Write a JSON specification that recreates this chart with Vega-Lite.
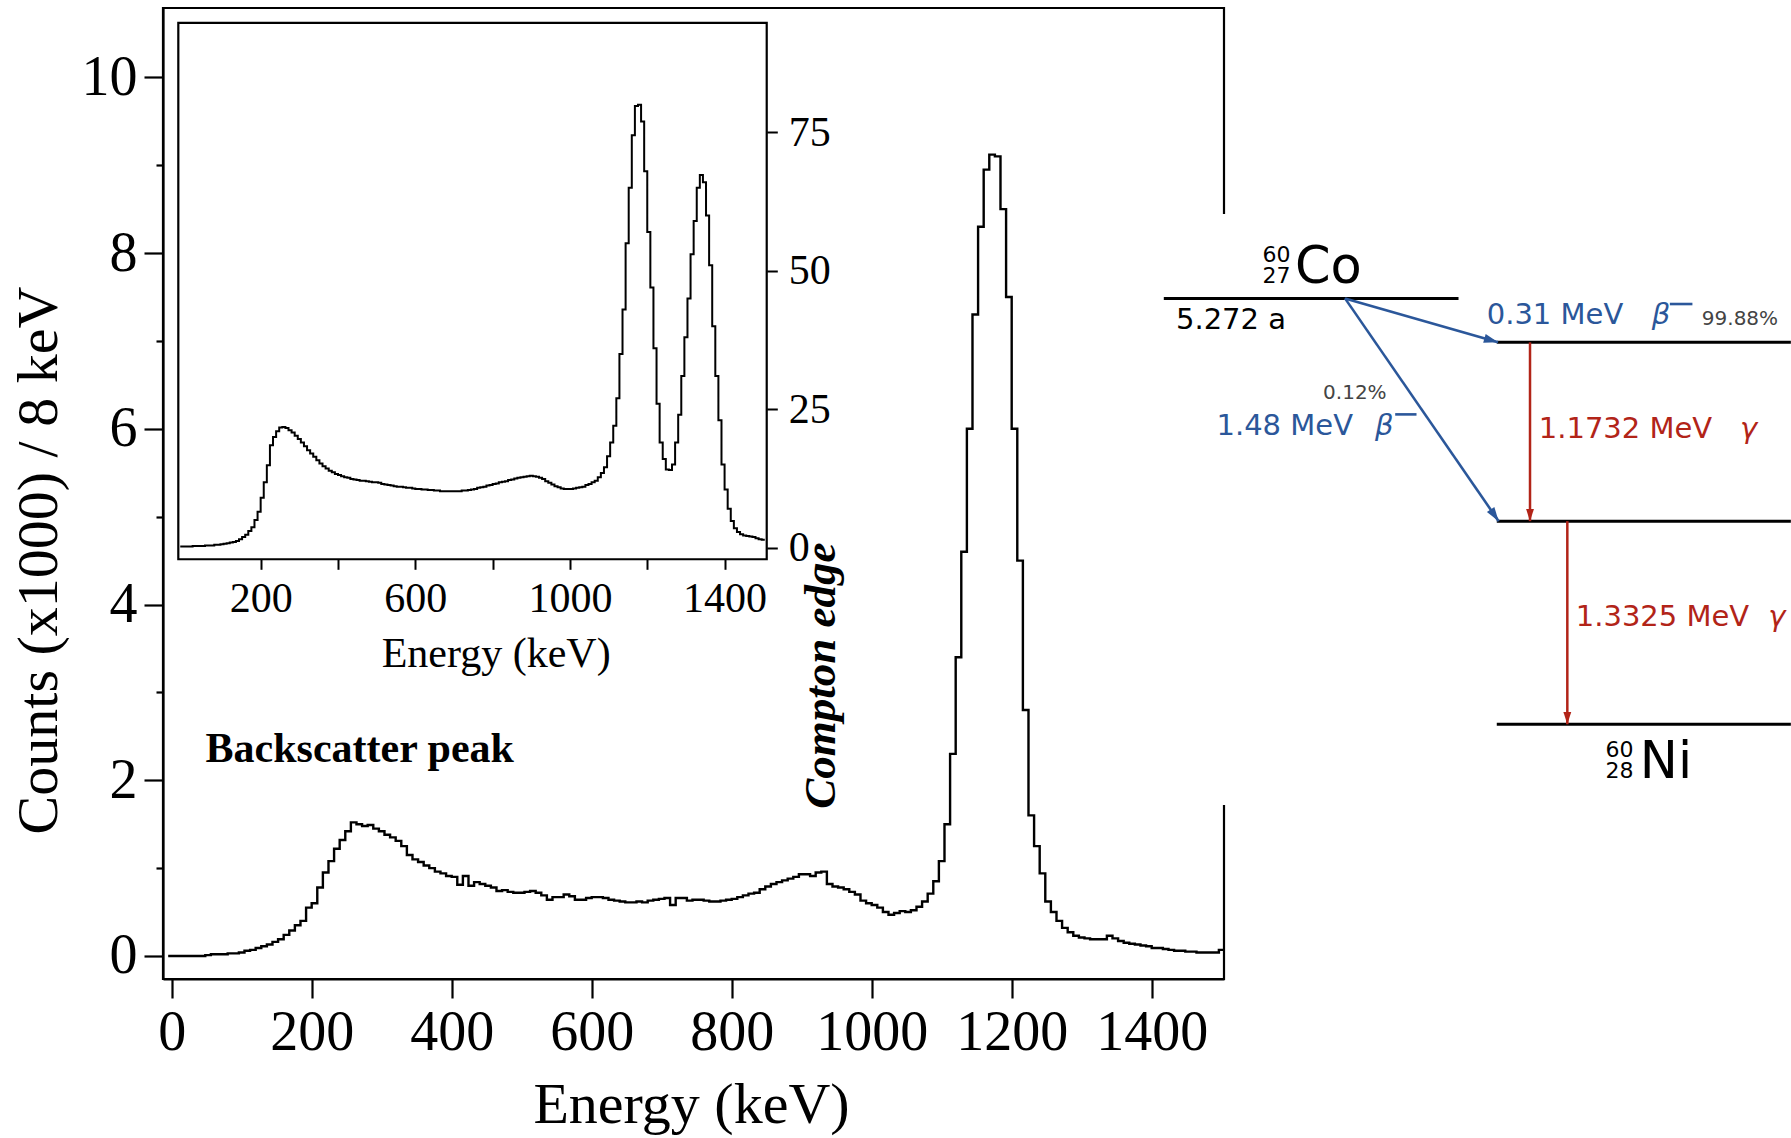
{
"$schema": "https://vega.github.io/schema/vega-lite/v6.json",
"width": 1061, "height": 971,
"autosize": {"type": "none"},
"padding": {"left": 163, "top": 8, "right": 567, "bottom": 159},
"background": "white",
"config": {
 "view": {"stroke": "black", "strokeWidth": 2.2},
 "axis": {"labelFont": "Liberation Serif", "titleFont": "Liberation Serif", "labelColor": "black", "titleColor": "black", "domainColor": "black", "tickColor": "black", "grid": false, "titleFontWeight": "normal", "labelOverlap": false, "labelFlush": false, "format": "d"}
},
"datasets": {
 "main": [
{"E":-5,"C":0},{"E":0,"C":0},{"E":8,"C":0},{"E":16,"C":0},{"E":24,"C":0},{"E":32,"C":0},{"E":40,"C":0},{"E":48,"C":0.01},{"E":56,"C":0.02},{"E":64,"C":0.02},{"E":72,"C":0.02},{"E":80,"C":0.03},{"E":88,"C":0.03},{"E":96,"C":0.04},{"E":104,"C":0.06},{"E":112,"C":0.07},{"E":120,"C":0.09},{"E":128,"C":0.11},{"E":136,"C":0.13},{"E":144,"C":0.16},{"E":152,"C":0.19},{"E":160,"C":0.24},{"E":168,"C":0.29},{"E":176,"C":0.35},{"E":184,"C":0.40},{"E":192,"C":0.55},{"E":200,"C":0.60},{"E":208,"C":0.78},{"E":216,"C":0.95},{"E":224,"C":1.08},{"E":232,"C":1.22},{"E":240,"C":1.32},{"E":248,"C":1.42},{"E":256,"C":1.52},{"E":264,"C":1.50},{"E":272,"C":1.48},{"E":280,"C":1.49},{"E":288,"C":1.45},{"E":296,"C":1.42},{"E":304,"C":1.38},{"E":312,"C":1.35},{"E":320,"C":1.31},{"E":328,"C":1.25},{"E":336,"C":1.15},{"E":344,"C":1.10},{"E":352,"C":1.07},{"E":360,"C":1.03},{"E":368,"C":1.00},{"E":376,"C":0.96},{"E":384,"C":0.94},{"E":392,"C":0.91},{"E":400,"C":0.90},{"E":408,"C":0.81},{"E":416,"C":0.91},{"E":424,"C":0.80},{"E":432,"C":0.84},{"E":440,"C":0.82},{"E":448,"C":0.80},{"E":456,"C":0.78},{"E":464,"C":0.74},{"E":472,"C":0.75},{"E":480,"C":0.73},{"E":488,"C":0.72},{"E":496,"C":0.72},{"E":504,"C":0.73},{"E":512,"C":0.74},{"E":520,"C":0.72},{"E":528,"C":0.69},{"E":536,"C":0.64},{"E":544,"C":0.67},{"E":552,"C":0.67},{"E":560,"C":0.70},{"E":568,"C":0.68},{"E":576,"C":0.64},{"E":584,"C":0.64},{"E":592,"C":0.66},{"E":600,"C":0.67},{"E":608,"C":0.67},{"E":616,"C":0.66},{"E":624,"C":0.64},{"E":632,"C":0.63},{"E":640,"C":0.62},{"E":648,"C":0.61},{"E":656,"C":0.61},{"E":664,"C":0.62},{"E":672,"C":0.61},{"E":680,"C":0.63},{"E":688,"C":0.64},{"E":696,"C":0.65},{"E":704,"C":0.66},{"E":712,"C":0.58},{"E":720,"C":0.66},{"E":728,"C":0.66},{"E":736,"C":0.63},{"E":744,"C":0.64},{"E":752,"C":0.64},{"E":760,"C":0.63},{"E":768,"C":0.62},{"E":776,"C":0.62},{"E":784,"C":0.63},{"E":792,"C":0.64},{"E":800,"C":0.65},{"E":808,"C":0.67},{"E":816,"C":0.69},{"E":824,"C":0.71},{"E":832,"C":0.72},{"E":840,"C":0.76},{"E":848,"C":0.79},{"E":856,"C":0.82},{"E":864,"C":0.84},{"E":872,"C":0.86},{"E":880,"C":0.88},{"E":888,"C":0.90},{"E":896,"C":0.93},{"E":904,"C":0.93},{"E":912,"C":0.91},{"E":920,"C":0.95},{"E":928,"C":0.96},{"E":936,"C":0.82},{"E":944,"C":0.79},{"E":952,"C":0.78},{"E":960,"C":0.76},{"E":968,"C":0.73},{"E":976,"C":0.70},{"E":984,"C":0.63},{"E":992,"C":0.60},{"E":1000,"C":0.58},{"E":1008,"C":0.55},{"E":1016,"C":0.50},{"E":1024,"C":0.47},{"E":1032,"C":0.49},{"E":1040,"C":0.51},{"E":1048,"C":0.50},{"E":1056,"C":0.52},{"E":1064,"C":0.56},{"E":1072,"C":0.62},{"E":1080,"C":0.71},{"E":1088,"C":0.85},{"E":1096,"C":1.08},{"E":1104,"C":1.50},{"E":1112,"C":2.30},{"E":1120,"C":3.40},{"E":1128,"C":4.60},{"E":1136,"C":6.00},{"E":1144,"C":7.30},{"E":1152,"C":8.30},{"E":1160,"C":8.95},{"E":1168,"C":9.12},{"E":1176,"C":9.10},{"E":1184,"C":8.50},{"E":1192,"C":7.50},{"E":1200,"C":6.00},{"E":1208,"C":4.50},{"E":1216,"C":2.80},{"E":1224,"C":1.60},{"E":1232,"C":1.25},{"E":1240,"C":0.94},{"E":1248,"C":0.62},{"E":1256,"C":0.50},{"E":1264,"C":0.40},{"E":1272,"C":0.32},{"E":1280,"C":0.27},{"E":1288,"C":0.23},{"E":1296,"C":0.21},{"E":1304,"C":0.20},{"E":1312,"C":0.19},{"E":1320,"C":0.19},{"E":1328,"C":0.19},{"E":1336,"C":0.23},{"E":1344,"C":0.20},{"E":1352,"C":0.17},{"E":1360,"C":0.15},{"E":1368,"C":0.14},{"E":1376,"C":0.13},{"E":1384,"C":0.12},{"E":1392,"C":0.11},{"E":1400,"C":0.09},{"E":1408,"C":0.09},{"E":1416,"C":0.08},{"E":1424,"C":0.07},{"E":1432,"C":0.06},{"E":1440,"C":0.06},{"E":1448,"C":0.05},{"E":1456,"C":0.05},{"E":1464,"C":0.04},{"E":1472,"C":0.04},{"E":1480,"C":0.04},{"E":1488,"C":0.04},{"E":1496,"C":0.07},{"E":1503,"C":0.07}
 ],
 "inset": [
{"E":-8,"C":0.2},{"E":0,"C":0.2},{"E":8,"C":0.2},{"E":16,"C":0.2},{"E":24,"C":0.3},{"E":32,"C":0.3},{"E":40,"C":0.3},{"E":48,"C":0.3},{"E":56,"C":0.4},{"E":64,"C":0.4},{"E":72,"C":0.4},{"E":80,"C":0.5},{"E":88,"C":0.5},{"E":96,"C":0.6},{"E":104,"C":0.7},{"E":112,"C":0.8},{"E":120,"C":0.9},{"E":128,"C":1.0},{"E":136,"C":1.2},{"E":144,"C":1.5},{"E":152,"C":1.9},{"E":160,"C":2.3},{"E":168,"C":3.0},{"E":176,"C":3.7},{"E":184,"C":5.0},{"E":192,"C":6.5},{"E":200,"C":9.0},{"E":208,"C":11.8},{"E":216,"C":14.9},{"E":224,"C":18.5},{"E":232,"C":20.0},{"E":240,"C":21.0},{"E":248,"C":21.7},{"E":256,"C":21.8},{"E":264,"C":21.6},{"E":272,"C":21.2},{"E":280,"C":20.8},{"E":288,"C":20.2},{"E":296,"C":19.6},{"E":304,"C":19.0},{"E":312,"C":18.3},{"E":320,"C":17.6},{"E":328,"C":17.0},{"E":336,"C":16.4},{"E":344,"C":15.8},{"E":352,"C":15.2},{"E":360,"C":14.7},{"E":368,"C":14.3},{"E":376,"C":13.9},{"E":384,"C":13.6},{"E":392,"C":13.3},{"E":400,"C":13.1},{"E":408,"C":12.9},{"E":416,"C":12.7},{"E":424,"C":12.6},{"E":432,"C":12.4},{"E":440,"C":12.3},{"E":448,"C":12.2},{"E":456,"C":12.1},{"E":464,"C":12.1},{"E":472,"C":12.0},{"E":480,"C":11.9},{"E":488,"C":11.8},{"E":496,"C":11.8},{"E":504,"C":11.7},{"E":512,"C":11.5},{"E":520,"C":11.4},{"E":528,"C":11.3},{"E":536,"C":11.2},{"E":544,"C":11.1},{"E":552,"C":11.0},{"E":560,"C":11.0},{"E":568,"C":10.9},{"E":576,"C":10.8},{"E":584,"C":10.8},{"E":592,"C":10.7},{"E":600,"C":10.6},{"E":608,"C":10.6},{"E":616,"C":10.5},{"E":624,"C":10.5},{"E":632,"C":10.4},{"E":640,"C":10.4},{"E":648,"C":10.3},{"E":656,"C":10.3},{"E":664,"C":10.2},{"E":672,"C":10.2},{"E":680,"C":10.2},{"E":688,"C":10.2},{"E":696,"C":10.2},{"E":704,"C":10.2},{"E":712,"C":10.2},{"E":720,"C":10.3},{"E":728,"C":10.3},{"E":736,"C":10.4},{"E":744,"C":10.5},{"E":752,"C":10.6},{"E":760,"C":10.8},{"E":768,"C":10.9},{"E":776,"C":11.0},{"E":784,"C":11.2},{"E":792,"C":11.3},{"E":800,"C":11.5},{"E":808,"C":11.6},{"E":816,"C":11.8},{"E":824,"C":11.9},{"E":832,"C":12.0},{"E":840,"C":12.2},{"E":848,"C":12.3},{"E":856,"C":12.5},{"E":864,"C":12.6},{"E":872,"C":12.7},{"E":880,"C":12.8},{"E":888,"C":12.9},{"E":896,"C":13.0},{"E":904,"C":12.9},{"E":912,"C":12.8},{"E":920,"C":12.6},{"E":928,"C":12.4},{"E":936,"C":12.0},{"E":944,"C":11.7},{"E":952,"C":11.4},{"E":960,"C":11.1},{"E":968,"C":10.9},{"E":976,"C":10.7},{"E":984,"C":10.6},{"E":992,"C":10.6},{"E":1000,"C":10.6},{"E":1008,"C":10.7},{"E":1016,"C":10.8},{"E":1024,"C":10.9},{"E":1032,"C":11.0},{"E":1040,"C":11.3},{"E":1048,"C":11.5},{"E":1056,"C":11.8},{"E":1064,"C":12.1},{"E":1072,"C":12.7},{"E":1080,"C":13.5},{"E":1088,"C":14.5},{"E":1096,"C":16.5},{"E":1104,"C":19.0},{"E":1112,"C":22.0},{"E":1120,"C":27.0},{"E":1128,"C":35.0},{"E":1136,"C":43.0},{"E":1144,"C":55.0},{"E":1152,"C":65.0},{"E":1160,"C":74.5},{"E":1168,"C":79.8},{"E":1176,"C":80.0},{"E":1184,"C":77.0},{"E":1192,"C":68.0},{"E":1200,"C":57.0},{"E":1208,"C":47.0},{"E":1216,"C":36.0},{"E":1224,"C":26.0},{"E":1232,"C":19.0},{"E":1240,"C":16.0},{"E":1248,"C":14.1},{"E":1256,"C":14.0},{"E":1264,"C":15.0},{"E":1272,"C":19.0},{"E":1280,"C":24.0},{"E":1288,"C":31.0},{"E":1296,"C":38.0},{"E":1304,"C":45.0},{"E":1312,"C":53.0},{"E":1320,"C":59.0},{"E":1328,"C":65.0},{"E":1336,"C":67.3},{"E":1344,"C":66.0},{"E":1352,"C":60.0},{"E":1360,"C":51.0},{"E":1368,"C":40.0},{"E":1376,"C":31.0},{"E":1384,"C":23.0},{"E":1392,"C":15.0},{"E":1400,"C":10.5},{"E":1408,"C":7.0},{"E":1416,"C":4.8},{"E":1424,"C":3.5},{"E":1432,"C":2.8},{"E":1440,"C":2.4},{"E":1448,"C":2.2},{"E":1456,"C":2.1},{"E":1464,"C":2.0},{"E":1472,"C":1.9},{"E":1480,"C":1.7},{"E":1488,"C":1.5},{"E":1496,"C":1.4},{"E":1504,"C":1.4}
 ]
},
"resolve": {"scale": {"x": "independent", "y": "independent"}},
"layer": [
 {
  "layer": [
   {
    "data": {"name": "main"},
    "mark": {"type": "line", "interpolate": "step-after", "color": "black", "strokeWidth": 2.4},
    "encoding": {
     "x": {"field": "E", "type": "quantitative", "scale": {"domain": [-12.4, 1503.3], "nice": false, "zero": false},
       "axis": {"orient": "bottom", "format": "d", "values": [0,200,400,600,800,1000,1200,1400], "tickSize": 19, "tickWidth": 2.2, "domainWidth": 2.2, "labelFontSize": 56, "labelBaseline": "alphabetic", "labelPadding": 51, "title": "Energy (keV)", "titleFontSize": 58, "titleBaseline": "alphabetic", "titleX": 528, "titleY": 143}},
     "y": {"field": "C", "type": "quantitative", "scale": {"domain": [-0.262, 10.789], "nice": false, "zero": false},
       "axis": {"orient": "left", "format": "d", "values": [0,1,2,3,4,5,6,7,8,9,10], "labelExpr": "datum.value % 2 === 0 ? datum.label : ''", "tickSize": {"condition": {"test": "datum.value % 2 === 0", "value": 19}, "value": 7}, "tickWidth": 2.2, "domainWidth": 2.2, "labelFontSize": 56, "labelPadding": 7, "title": "Counts (x1000) / 8 keV", "titleFontSize": 58, "titleAngle": 270, "titleAlign": "center", "titleBaseline": "alphabetic", "titleX": -107, "titleY": 552}}
    }
   },
   {
    "data": {"values": [{"label": "Backscatter peak", "E": 48.4, "C": 2.21}]},
    "mark": {"type": "text", "align": "left", "baseline": "alphabetic", "font": "Liberation Serif", "fontWeight": "bold", "fontSize": 42, "color": "black"},
    "encoding": {
     "x": {"field": "E", "type": "quantitative", "scale": {"domain": [-12.4, 1503.3], "nice": false, "zero": false}},
     "y": {"field": "C", "type": "quantitative", "scale": {"domain": [-0.262, 10.789], "nice": false, "zero": false}},
     "text": {"field": "label"}
    }
   },
   {
    "data": {"values": [{"label": "Compton edge", "E": 947.6, "C": 3.19}]},
    "mark": {"type": "text", "align": "center", "baseline": "alphabetic", "angle": 270, "font": "Liberation Serif", "fontWeight": "bold", "fontStyle": "italic", "fontSize": 45, "color": "black"},
    "encoding": {
     "x": {"field": "E", "type": "quantitative", "scale": {"domain": [-12.4, 1503.3], "nice": false, "zero": false}},
     "y": {"field": "C", "type": "quantitative", "scale": {"domain": [-0.262, 10.789], "nice": false, "zero": false}},
     "text": {"field": "label"}
    }
   }
  ]
 },
 {
  "layer": [
   {
    "data": {"values": [{"E": -13, "E2": 1509, "C": -2.1, "C2": 94.8}]},
    "mark": {"type": "rect", "fill": "white", "stroke": "black", "strokeWidth": 2.2},
    "encoding": {
     "x": {"field": "E", "type": "quantitative", "scale": {"domain": [-52.6, 2691.8], "nice": false, "zero": false}},
     "x2": {"field": "E2"},
     "y": {"field": "C", "type": "quantitative", "scale": {"domain": [-77.94, 97.49], "nice": false, "zero": false}},
     "y2": {"field": "C2"}
    }
   },
   {
    "data": {"name": "inset"},
    "mark": {"type": "line", "interpolate": "step-after", "color": "black", "strokeWidth": 2},
    "encoding": {
     "x": {"field": "E", "type": "quantitative", "scale": {"domain": [-52.6, 2691.8], "nice": false, "zero": false},
       "axis": {"orient": "bottom", "format": "d", "offset": -419.7, "domain": false, "zindex": 1, "values": [200,400,600,800,1000,1200,1400], "labelExpr": "datum.value % 400 === 200 ? datum.label : ''", "tickSize": 10, "tickWidth": 2, "labelFontSize": 42, "labelBaseline": "alphabetic", "labelPadding": 42, "title": "Energy (keV)", "titleFontSize": 42, "titleBaseline": "alphabetic", "titleX": 332.7, "titleY": 106.7}},
     "y": {"field": "C", "type": "quantitative", "scale": {"domain": [-77.94, 97.49], "nice": false, "zero": false},
       "axis": {"orient": "right", "format": "d", "offset": -457.3, "domain": false, "zindex": 1, "values": [0,25,50,75], "tickSize": 10.6, "tickWidth": 2, "labelFontSize": 42, "labelPadding": 11, "title": null}}
    }
   }
  ]
 },
 {
  "layer": [
   {
    "data": {"values": [{"u": -1, "u2": 100, "MeV": 3.347, "MeV2": -0.529}]},
    "mark": {"type": "rect", "fill": "white", "stroke": null},
    "encoding": {
     "x": {"field": "u", "type": "quantitative", "scale": {"domain": [-159.6, 9.6], "nice": false, "zero": false}, "axis": null},
     "x2": {"field": "u2"},
     "y": {"field": "MeV", "type": "quantitative", "scale": {"domain": [-1.671, 4.699], "nice": false, "zero": false}, "axis": null},
     "y2": {"field": "MeV2"}
    }
   },
   {
    "data": {"values": [{"u": 0, "u2": 47, "MeV": 2.794}, {"u": 53.1, "u2": 100, "MeV": 2.5057}, {"u": 53.1, "u2": 100, "MeV": 1.3325}, {"u": 53.1, "u2": 100, "MeV": 0}]},
    "mark": {"type": "rule", "color": "black", "strokeWidth": 3},
    "encoding": {
     "x": {"field": "u", "type": "quantitative", "axis": null},
     "x2": {"field": "u2"},
     "y": {"field": "MeV", "type": "quantitative", "axis": null}
    }
   },
   {
    "data": {"values": [{"u": 28.9, "MeV": 2.794, "u2": 53.3, "MeV2": 2.5057}, {"u": 28.9, "MeV": 2.794, "u2": 53.4, "MeV2": 1.3325}, {"u": 80.7, "MeV": 2.757, "u2": 84.3, "MeV2": 2.757}, {"u": 36.9, "MeV": 2.033, "u2": 40.3, "MeV2": 2.033}]},
    "mark": {"type": "rule", "color": "#2b579a", "strokeWidth": 2.6},
    "encoding": {
     "x": {"field": "u", "type": "quantitative", "axis": null},
     "x2": {"field": "u2"},
     "y": {"field": "MeV", "type": "quantitative", "axis": null},
     "y2": {"field": "MeV2"}
    }
   },
   {
    "data": {"values": [{"u": 58.4, "MeV": 2.5057, "u2": 58.4, "MeV2": 1.3325}, {"u": 64.35, "MeV": 1.3325, "u2": 64.35, "MeV2": 0}]},
    "mark": {"type": "rule", "color": "#b22418", "strokeWidth": 2.5},
    "encoding": {
     "x": {"field": "u", "type": "quantitative", "axis": null},
     "x2": {"field": "u2"},
     "y": {"field": "MeV", "type": "quantitative", "axis": null},
     "y2": {"field": "MeV2"}
    }
   },
   {
    "data": {"values": [{"u": 53.3, "MeV": 2.5057}]},
    "mark": {"type": "point", "shape": "M0,0L-1,-0.32L-1,0.32Z", "filled": true, "size": 800, "angle": 16, "color": "#2b579a", "opacity": 1},
    "encoding": {"x": {"field": "u", "type": "quantitative", "axis": null}, "y": {"field": "MeV", "type": "quantitative", "axis": null}}
   },
   {
    "data": {"values": [{"u": 53.4, "MeV": 1.3325}]},
    "mark": {"type": "point", "shape": "M0,0L-1,-0.32L-1,0.32Z", "filled": true, "size": 800, "angle": 55.4, "color": "#2b579a", "opacity": 1},
    "encoding": {"x": {"field": "u", "type": "quantitative", "axis": null}, "y": {"field": "MeV", "type": "quantitative", "axis": null}}
   },
   {
    "data": {"values": [{"u": 58.4, "MeV": 1.3325}, {"u": 64.35, "MeV": 0}]},
    "mark": {"type": "point", "shape": "M0,0L-1,-0.32L-1,0.32Z", "filled": true, "size": 600, "angle": 90, "color": "#b22418", "opacity": 1},
    "encoding": {"x": {"field": "u", "type": "quantitative", "axis": null}, "y": {"field": "MeV", "type": "quantitative", "axis": null}}
   },
   {
    "data": {"values": [{"t": "Co", "u": 20.92, "MeV": 2.893}, {"t": "Ni", "u": 75.9, "MeV": -0.354}]},
    "mark": {"type": "text", "align": "left", "baseline": "alphabetic", "font": "DejaVu Sans", "fontSize": 51, "color": "black"},
    "encoding": {"x": {"field": "u", "type": "quantitative", "axis": null}, "y": {"field": "MeV", "type": "quantitative", "axis": null}, "text": {"field": "t"}}
   },
   {
    "data": {"values": [{"t": "60", "u": 20.2, "MeV": 3.034}, {"t": "27", "u": 20.2, "MeV": 2.893}, {"t": "60", "u": 74.9, "MeV": -0.212}, {"t": "28", "u": 74.9, "MeV": -0.354}]},
    "mark": {"type": "text", "align": "right", "baseline": "alphabetic", "font": "DejaVu Sans", "fontSize": 22, "color": "black"},
    "encoding": {"x": {"field": "u", "type": "quantitative", "axis": null}, "y": {"field": "MeV", "type": "quantitative", "axis": null}, "text": {"field": "t"}}
   },
   {
    "data": {"values": [{"t": "5.272 a", "u": 1.94, "MeV": 2.593}]},
    "mark": {"type": "text", "align": "left", "baseline": "alphabetic", "font": "DejaVu Sans", "fontSize": 29, "color": "black"},
    "encoding": {"x": {"field": "u", "type": "quantitative", "axis": null}, "y": {"field": "MeV", "type": "quantitative", "axis": null}, "text": {"field": "t"}}
   },
   {
    "data": {"values": [{"t": "0.31 MeV", "u": 51.5, "MeV": 2.624}, {"t": "1.48 MeV", "u": 8.4, "MeV": 1.898}]},
    "mark": {"type": "text", "align": "left", "baseline": "alphabetic", "font": "DejaVu Sans", "fontSize": 29, "color": "#2b579a"},
    "encoding": {"x": {"field": "u", "type": "quantitative", "axis": null}, "y": {"field": "MeV", "type": "quantitative", "axis": null}, "text": {"field": "t"}}
   },
   {
    "data": {"values": [{"t": "β", "u": 77.8, "MeV": 2.624}, {"t": "β", "u": 33.7, "MeV": 1.898}]},
    "mark": {"type": "text", "align": "left", "baseline": "alphabetic", "font": "DejaVu Sans", "fontStyle": "italic", "fontSize": 29, "color": "#2b579a"},
    "encoding": {"x": {"field": "u", "type": "quantitative", "axis": null}, "y": {"field": "MeV", "type": "quantitative", "axis": null}, "text": {"field": "t"}}
   },
   {
    "data": {"values": [{"t": "99.88%", "u": 85.8, "MeV": 2.619}, {"t": "0.12%", "u": 25.4, "MeV": 2.132}]},
    "mark": {"type": "text", "align": "left", "baseline": "alphabetic", "font": "DejaVu Sans", "fontSize": 20, "color": "#444444"},
    "encoding": {"x": {"field": "u", "type": "quantitative", "axis": null}, "y": {"field": "MeV", "type": "quantitative", "axis": null}, "text": {"field": "t"}}
   },
   {
    "data": {"values": [{"t": "1.1732 MeV", "u": 59.8, "MeV": 1.876}, {"t": "1.3325 MeV", "u": 65.7, "MeV": 0.645}]},
    "mark": {"type": "text", "align": "left", "baseline": "alphabetic", "font": "DejaVu Sans", "fontSize": 29, "color": "#b22418"},
    "encoding": {"x": {"field": "u", "type": "quantitative", "axis": null}, "y": {"field": "MeV", "type": "quantitative", "axis": null}, "text": {"field": "t"}}
   },
   {
    "data": {"values": [{"t": "γ", "u": 91.9, "MeV": 1.876}, {"t": "γ", "u": 96.4, "MeV": 0.645}]},
    "mark": {"type": "text", "align": "left", "baseline": "alphabetic", "font": "DejaVu Sans", "fontStyle": "italic", "fontSize": 29, "color": "#b22418"},
    "encoding": {"x": {"field": "u", "type": "quantitative", "axis": null}, "y": {"field": "MeV", "type": "quantitative", "axis": null}, "text": {"field": "t"}}
   }
  ]
 }
]
}
